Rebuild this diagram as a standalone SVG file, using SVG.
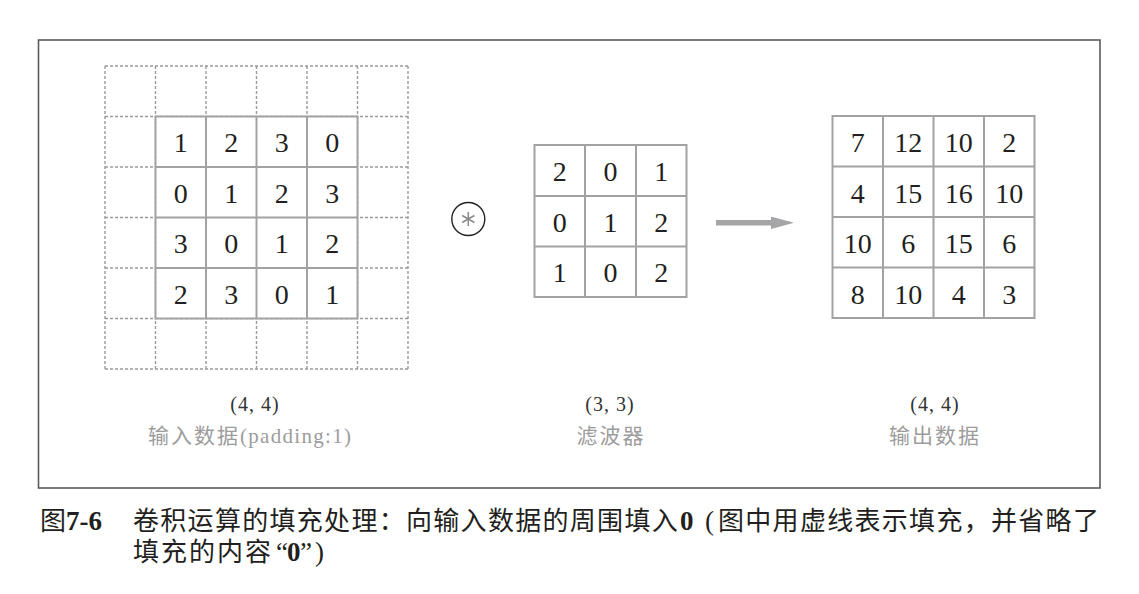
<svg xmlns="http://www.w3.org/2000/svg" width="1139" height="594" viewBox="0 0 1139 594">
  <style>
    .frame { fill: none; stroke: #5a5a5a; stroke-width: 1.6; }
    .dash { fill: none; stroke: #9a9a9c; stroke-width: 1.4; stroke-dasharray: 3 2; }
    .grid { fill: #ffffff; stroke: #a2a2a5; stroke-width: 2; }
    .gline { stroke: #a2a2a5; stroke-width: 2; }
    .num { font-family: "Liberation Serif", "DejaVu Serif", serif; font-size: 28px; fill: #231f20; text-anchor: middle; }
    .dim { font-family: "Liberation Serif", "DejaVu Serif", serif; font-size: 20px; fill: #333333; text-anchor: middle; letter-spacing: 1px; }
    .lbl { font-family: "Noto Sans CJK SC", "Noto Sans", sans-serif; font-size: 21px; fill: #9c9c9c; letter-spacing: 2px; }
    .lbls { font-family: "Liberation Serif", "DejaVu Serif", serif; font-size: 21px; fill: #9c9c9c; letter-spacing: 1.3px; }
    .captext { fill: #231f20; }
    .cap { font-family: "Noto Sans CJK SC", "Noto Sans", sans-serif; font-size: 26px; letter-spacing: 1.3px; }
    .capb { font-family: "Liberation Serif", "DejaVu Serif", serif; font-size: 27px; font-weight: bold; letter-spacing: 0; }
    .capr { font-family: "Liberation Serif", "DejaVu Serif", serif; font-size: 27px; letter-spacing: 0; }
  </style>
  <defs>
    <marker id="head" viewBox="0 0 23 12.5" refX="0" refY="6.25" markerWidth="4.18" markerHeight="2.27" markerUnits="strokeWidth" orient="auto">
      <path d="M0,0 L23,6.25 L0,12.5 Z" fill="#a5a5a8"/>
    </marker>
  </defs>

  <rect class="frame" x="38.5" y="40" width="1061.5" height="448"/>

  <!-- padded input: dashed 6x6 outline grid with the solid 4x4 data grid on top -->
  <g id="input">
    <g class="dash">
      <path d="M105,66 H408 M105,116.5 H408 M105,167 H408 M105,217.5 H408 M105,268 H408 M105,318.5 H408 M105,369 H408"/>
      <path d="M105,66 V369 M155.5,66 V369 M206,66 V369 M256.5,66 V369 M307,66 V369 M357.5,66 V369 M408,66 V369"/>
    </g>
    <rect class="grid" x="155.5" y="116.5" width="202" height="202"/>
    <path class="gline" d="M206,116.5 V318.5 M256.5,116.5 V318.5 M307,116.5 V318.5 M155.5,167 H357.5 M155.5,217.5 H357.5 M155.5,268 H357.5"/>
    <g class="num">
      <text x="180.75" y="152">1</text><text x="231.25" y="152">2</text><text x="281.75" y="152">3</text><text x="332.25" y="152">0</text>
      <text x="180.75" y="202.5">0</text><text x="231.25" y="202.5">1</text><text x="281.75" y="202.5">2</text><text x="332.25" y="202.5">3</text>
      <text x="180.75" y="253">3</text><text x="231.25" y="253">0</text><text x="281.75" y="253">1</text><text x="332.25" y="253">2</text>
      <text x="180.75" y="303.5">2</text><text x="231.25" y="303.5">3</text><text x="281.75" y="303.5">0</text><text x="332.25" y="303.5">1</text>
    </g>
    <text class="dim" x="255" y="411">(4, 4)</text>
    <text x="148" y="443"><tspan class="lbl">输入数据</tspan><tspan class="lbls">(padding:1)</tspan></text>
  </g>

  <!-- convolution operator -->
  <g id="operator">
    <circle cx="468.3" cy="219" r="16.5" fill="none" stroke="#231f20" stroke-width="1.4"/>
    <path d="M468.3,212 V226 M462.2,215.5 L474.4,222.5 M462.2,222.5 L474.4,215.5" stroke="#8a8a8a" stroke-width="1.5" fill="none"/>
  </g>

  <!-- 3x3 filter -->
  <g id="filter">
    <rect class="grid" x="534.5" y="145" width="152" height="152"/>
    <path class="gline" d="M585,145 V297 M636,145 V297 M534.5,196 H686.5 M534.5,246.5 H686.5"/>
    <g class="num">
      <text x="559.75" y="181">2</text><text x="610.5" y="181">0</text><text x="661.25" y="181">1</text>
      <text x="559.75" y="231.5">0</text><text x="610.5" y="231.5">1</text><text x="661.25" y="231.5">2</text>
      <text x="559.75" y="282">1</text><text x="610.5" y="282">0</text><text x="661.25" y="282">2</text>
    </g>
    <text class="dim" x="610" y="411">(3, 3)</text>
    <text class="lbl" x="611" y="443" text-anchor="middle">滤波器</text>
  </g>

  <!-- output feature map -->
  <g id="output">
    <rect class="grid" x="832.5" y="116" width="202" height="202"/>
    <path class="gline" d="M883,116 V318 M933.5,116 V318 M984,116 V318 M832.5,166.5 H1034.5 M832.5,217 H1034.5 M832.5,267.5 H1034.5"/>
    <g class="num">
      <text x="857.75" y="152">7</text><text x="908.25" y="152">12</text><text x="958.75" y="152">10</text><text x="1009.25" y="152">2</text>
      <text x="857.75" y="202.5">4</text><text x="908.25" y="202.5">15</text><text x="958.75" y="202.5">16</text><text x="1009.25" y="202.5">10</text>
      <text x="857.75" y="253">10</text><text x="908.25" y="253">6</text><text x="958.75" y="253">15</text><text x="1009.25" y="253">6</text>
      <text x="857.75" y="303.5">8</text><text x="908.25" y="303.5">10</text><text x="958.75" y="303.5">4</text><text x="1009.25" y="303.5">3</text>
    </g>
    <text class="dim" x="935" y="411">(4, 4)</text>
    <text class="lbl" x="935" y="443" text-anchor="middle">输出数据</text>
  </g>

  <g id="connectors">
    <line x1="716" y1="222.8" x2="771" y2="222.8" stroke="#a5a5a8" stroke-width="5.5" marker-end="url(#head)"/>
  </g>

  <!-- figure caption, two lines in one text block -->
  <g id="caption">
    <text class="captext"><tspan class="cap" x="40" y="530" style="letter-spacing:0">图</tspan><tspan class="capb" x="66" y="530">7-6</tspan><tspan class="cap" x="133" y="530">卷积运算的填充处理：向输入数据的周围填入</tspan><tspan class="capb" x="680" y="530">0</tspan><tspan class="capr" x="705" y="530">(</tspan><tspan class="cap" x="718" y="530">图中用虚线表示填充，并省略了</tspan><tspan class="cap" x="133" y="561" style="letter-spacing:2px">填充的内容</tspan><tspan class="capr" x="276" y="561">“</tspan><tspan class="capb" x="287" y="561">0</tspan><tspan class="capr" x="300" y="561">”</tspan><tspan class="capr" x="315" y="561">)</tspan></text>
  </g>
</svg>
